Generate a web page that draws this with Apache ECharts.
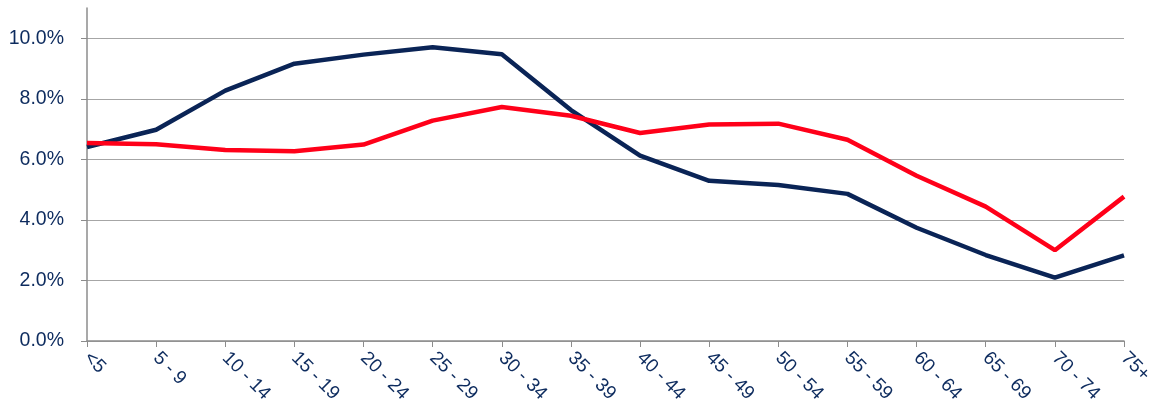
<!DOCTYPE html>
<html><head><meta charset="utf-8">
<script src="https://cdn.jsdelivr.net/npm/echarts@6/dist/echarts.min.js"></script>
<style>html,body{margin:0;padding:0;background:#fff}#c{width:1155px;height:418px}</style>
</head><body><div id="c"></div>
<script>
const categories = ['<5','5 - 9','10 - 14','15 - 19','20 - 24','25 - 29','30 - 34','35 - 39','40 - 44','45 - 49','50 - 54','55 - 59','60 - 64','65 - 69','70 - 74','75+'];
const navySeries = [6.41, 6.98, 8.27, 9.16, 9.46, 9.70, 9.47, 7.63, 6.12, 5.29, 5.15, 4.86, 3.74, 2.84, 2.09, 2.83];
const redSeries  = [6.54, 6.50, 6.31, 6.27, 6.49, 7.28, 7.73, 7.44, 6.87, 7.15, 7.18, 6.65, 5.46, 4.44, 3.00, 4.77];

const FONT = '"Liberation Sans", Arial, sans-serif';
const chart = echarts.init(document.getElementById('c'));
chart.setOption({
  animation: false,
  grid: {left: 87, right: 31, top: 8, bottom: 77, containLabel: false, outerBoundsMode: 'none'},
  xAxis: {
    type: 'category', data: categories, boundaryGap: false,
    axisLine: {lineStyle: {color: '#8c8c8c', width: 1.5}},
    axisTick: {show: true, length: 6, lineStyle: {color: '#8c8c8c'}},
    axisLabel: {rotate: -45, interval: 0, margin: 14, color: '#0d2b5e', fontFamily: FONT, fontSize: 19}
  },
  yAxis: {
    type: 'value', min: 0, max: 11, interval: 2,
    axisLine: {show: true, lineStyle: {color: '#8c8c8c', width: 1.5}},
    axisTick: {show: true, length: 6, lineStyle: {color: '#8c8c8c'}},
    axisLabel: {showMaxLabel: false, margin: 23, color: '#0d2b5e', fontFamily: FONT, fontSize: 19.5,
      formatter: v => v.toFixed(1) + '%'},
    splitLine: {showMaxLine: false, lineStyle: {color: '#a6a6a6', width: 1.2}}
  },
  series: [
    {type: 'line', data: navySeries, symbol: 'none', lineStyle: {color: '#0a2456', width: 4.5}, z: 3},
    {type: 'line', data: redSeries, symbol: 'none', lineStyle: {color: '#ff0019', width: 4.5}, z: 4}
  ]
});
</script></body></html>
